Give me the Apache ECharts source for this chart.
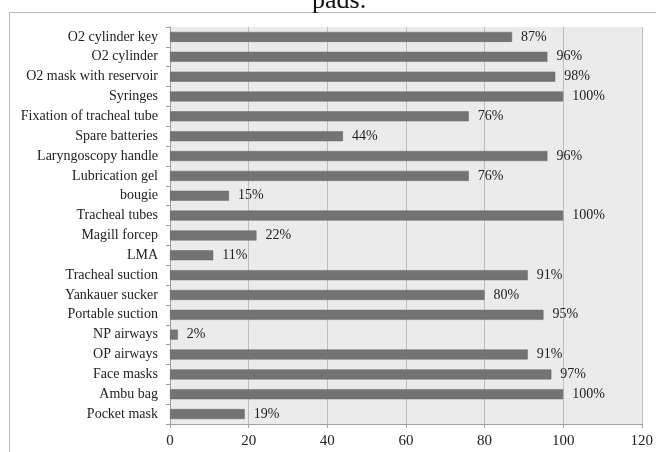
<!DOCTYPE html>
<html>
<head>
<meta charset="utf-8">
<script src="https://cdn.jsdelivr.net/npm/echarts@6/dist/echarts.min.js"></script>
<style>
  html, body { margin: 0; padding: 0; background: #fff; }
  #chart { width: 656px; height: 452px; }
</style>
</head>
<body>
<div id="chart"></div>
<script>
// Equipment items, listed bottom to top as the category axis draws them
const items = [
  'Pocket mask', 'Ambu bag', 'Face masks', 'OP airways', 'NP airways',
  'Portable suction', 'Yankauer sucker', 'Tracheal suction', 'LMA', 'Magill forcep',
  'Tracheal tubes', 'bougie', 'Lubrication gel', 'Laryngoscopy handle', 'Spare batteries',
  'Fixation of tracheal tube', 'Syringes', 'O2 mask with reservoir', 'O2 cylinder', 'O2 cylinder key'
];
// Percentage of sites where each item was available
const availability = [19, 100, 97, 91, 2, 95, 80, 91, 11, 22, 100, 15, 76, 96, 44, 76, 100, 98, 96, 87];
const xTicks = [0, 20, 40, 60, 80, 100, 120];

const serif = '"Liberation Serif", "DejaVu Serif", serif';
const chart = echarts.init(document.getElementById('chart'));
chart.setOption({
  animation: false,
  title: {
    text: 'pads.',
    left: 307,
    top: -17,
    textStyle: { fontFamily: serif, fontSize: 26, fontWeight: 'normal', color: '#111' }
  },
  graphic: [{
    type: 'polyline',
    shape: { points: [[9.5, 452], [9.5, 12.5], [656, 12.5]] },
    style: { stroke: '#b8b8b8', lineWidth: 1, fill: null },
    silent: true
  }],
  grid: {
    left: 170, right: 13, top: 27, bottom: 28,
    show: true, backgroundColor: '#ebebeb', borderWidth: 0
  },
  xAxis: {
    type: 'value',
    min: 0, max: 120, interval: 20,
    axisLine: { show: true, lineStyle: { color: '#a0a0a0' } },
    axisTick: { show: true, length: 4, lineStyle: { color: '#a0a0a0' } },
    splitLine: { show: true, lineStyle: { color: '#bdbdbd', width: 1 } },
    axisLabel: {
      fontFamily: serif, fontSize: 15, color: '#222', margin: 10,
      formatter: v => (xTicks.includes(v) ? String(v) : '')
    }
  },
  yAxis: {
    type: 'category',
    data: items,
    axisLine: { show: true, lineStyle: { color: '#a0a0a0' } },
    axisTick: { show: true, length: 4, lineStyle: { color: '#a0a0a0' } },
    axisLabel: { fontFamily: serif, fontSize: 14, color: '#222', margin: 12 }
  },
  series: [{
    type: 'bar',
    data: availability,
    barWidth: 10,
    itemStyle: { color: '#737373', borderColor: '#686868', borderWidth: 0.5 },
    label: {
      show: true, position: 'right', distance: 9,
      fontFamily: serif, fontSize: 14, color: '#222',
      formatter: p => p.value + '%'
    }
  }]
});
</script>
</body>
</html>
